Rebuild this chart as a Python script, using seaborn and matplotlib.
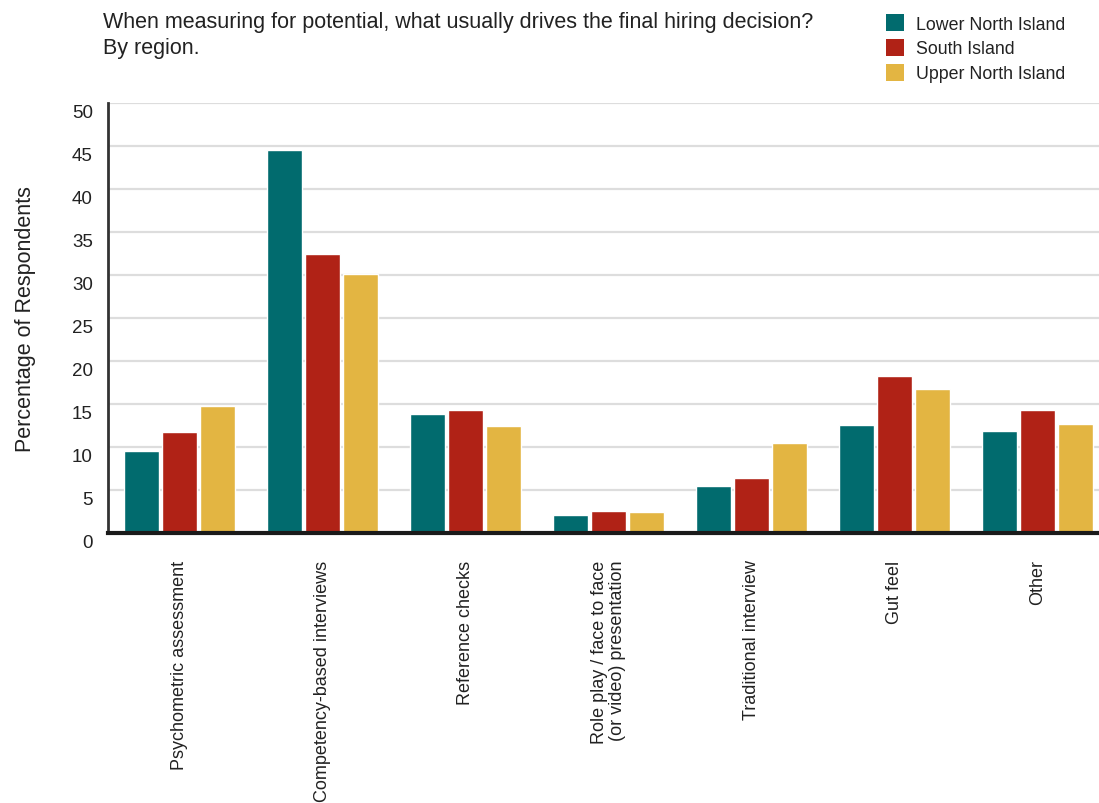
import matplotlib
matplotlib.use("Agg")
import matplotlib.pyplot as plt
import matplotlib.transforms as mtransforms
import seaborn as sns
import pandas as pd
from matplotlib.patches import Patch

categories = [
    "Psychometric assessment",
    "Competency-based interviews",
    "Reference checks",
    "Role play / face to face\n(or video) presentation",
    "Traditional interview",
    "Gut feel",
    "Other",
]
regions = ["Lower North Island", "South Island", "Upper North Island"]
lower_north = [9.5, 44.5, 13.8, 2.1, 5.5, 12.6, 11.9]
south = [11.7, 32.4, 14.25, 2.6, 6.45, 18.2, 14.25]
upper_north = [14.8, 30.1, 12.4, 2.5, 10.5, 16.8, 12.7]
yticks = [0, 5, 10, 15, 20, 25, 30, 35, 40, 45, 50]

colors = ["#016b6e", "#b02216", "#e3b542"]

df = pd.DataFrame({
    "Method": categories * 3,
    "Region": [regions[0]] * 7 + [regions[1]] * 7 + [regions[2]] * 7,
    "Value": lower_north + south + upper_north,
})

sns.set_theme(style="white")
plt.rcParams["font.family"] = ["Liberation Sans", "DejaVu Sans"]

fig = plt.figure(figsize=(10.99, 8.04), dpi=100)
ax = fig.add_axes([108 / 1099, 1 - 534 / 804, 1 - 108 / 1099, (534 - 104) / 804])

sns.barplot(data=df, x="Method", y="Value", hue="Region", order=categories,
            hue_order=regions, palette=colors, width=0.8, gap=0.08,
            saturation=1, legend=False, ax=ax)

ax.set_ylim(0, 50)
ax.set_xlim(-0.5, 6.43)
ax.set_yticks(yticks)
ax.set_yticklabels([str(t) for t in yticks], fontsize=13.5, color="#222222")
ax.yaxis.grid(True, color="#dddddd", linewidth=1.6)
ax.set_axisbelow(True)
ax.tick_params(axis="y", length=0, pad=11)
ax.tick_params(axis="x", length=0, pad=19)

# nudge y tick labels slightly below their gridlines
shift = mtransforms.ScaledTranslation(0, -8 / 100, fig.dpi_scale_trans)
for lab in ax.get_yticklabels():
    lab.set_transform(lab.get_transform() + shift)

for lab in ax.get_xticklabels():
    lab.set_rotation(90)
    lab.set_fontsize(13)
    lab.set_color("#222222")
    lab.set_multialignment("right")
    lab.set_va("top")
    lab.set_ha("center")
    lab.set_linespacing(1.05)

ax.set_xlabel("")
ax.set_ylabel("Percentage of Respondents", fontsize=15.5, color="#222222", labelpad=26)

for side in ["top", "right"]:
    ax.spines[side].set_visible(False)
ax.spines["left"].set_color("#333333")
ax.spines["left"].set_linewidth(2)
ax.spines["bottom"].set_color("#1a1a1a")
ax.spines["bottom"].set_linewidth(3)

fig.text(103 / 1099, 1 - 12 / 804,
         "When measuring for potential, what usually drives the final hiring decision?\nBy region.",
         fontsize=15.5, color="#222222", ha="left", va="top", linespacing=1.3)

handles = [Patch(facecolor=c, edgecolor="none") for c in colors]
fig.legend(handles, regions, loc="upper left", bbox_to_anchor=(879 / 1099, 1 - 8 / 804),
           frameon=False, fontsize=12.8, handlelength=1.0, handleheight=1.1,
           handletextpad=0.7, labelspacing=0.35, borderaxespad=0, labelcolor="#222222")

fig.savefig("out.png", dpi=100)
